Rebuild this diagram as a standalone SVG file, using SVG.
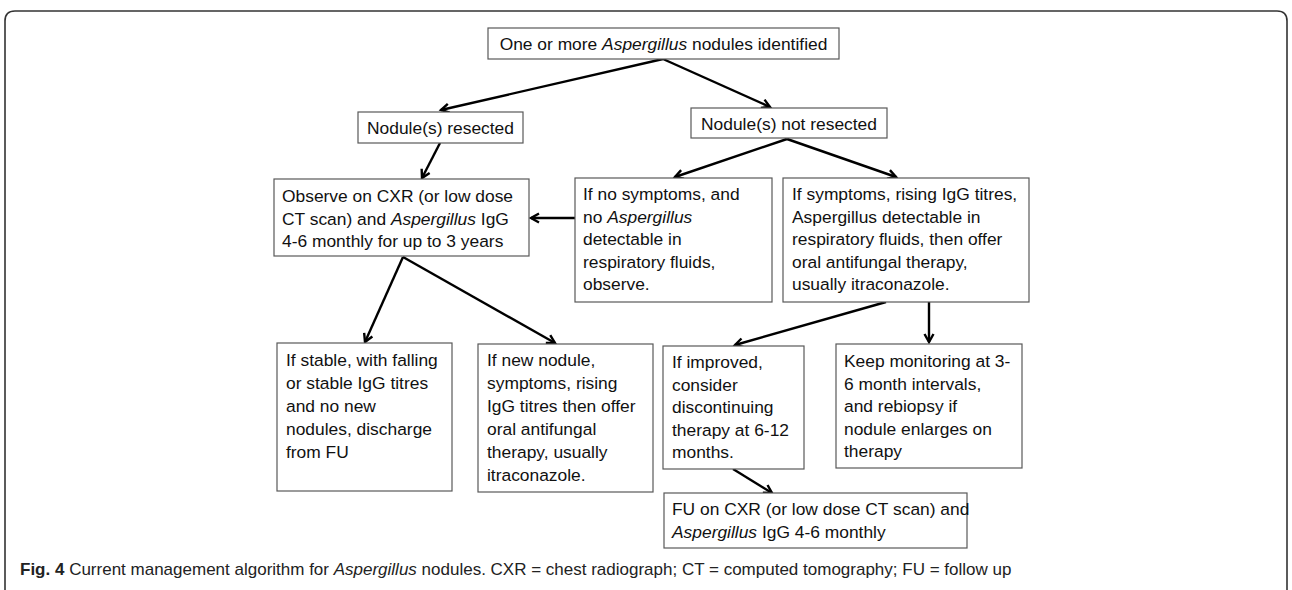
<svg xmlns="http://www.w3.org/2000/svg" width="1292" height="590" viewBox="0 0 1292 590">
<style>
.box{fill:#fff;stroke:#595959;stroke-width:1.2}
.t{font-family:"Liberation Sans",Arial,sans-serif;font-size:17.4px;fill:#111}
.c{font-family:"Liberation Sans",Arial,sans-serif;font-size:17px;fill:#222}
.i{font-style:italic}
.b{font-weight:bold}
.conn line{stroke:#000;stroke-width:2.4;marker-end:url(#ah)}
</style>
<defs>
<marker id="ah" markerWidth="12" markerHeight="12" refX="9" refY="6" orient="auto" markerUnits="userSpaceOnUse">
<path d="M1,1.5 L9,6 L1,10.5" fill="none" stroke="#000" stroke-width="2.4"/>
</marker>
</defs>
<rect width="1292" height="590" fill="#fff"/>
<path d="M5,592 L5,21 Q5,11 15,11 L1277,11 Q1287,11 1287,21 L1287,592" fill="none" stroke="#333" stroke-width="1.6"/>

<g class="conn" id="connectors">
<line x1="663" y1="59" x2="441" y2="110"/>
<line x1="663" y1="59" x2="770" y2="107"/>
<line x1="440" y1="143" x2="422" y2="178"/>
<line x1="787" y1="139" x2="675" y2="177"/>
<line x1="787" y1="139" x2="896" y2="177"/>
<line x1="575" y1="218" x2="531" y2="218"/>
<line x1="403" y1="257" x2="365" y2="342"/>
<line x1="403" y1="257" x2="555" y2="343"/>
<line x1="886" y1="302" x2="735" y2="345"/>
<line x1="929" y1="302" x2="929" y2="342"/>
<line x1="733" y1="469" x2="772" y2="493"/>
</g>

<g id="n-top">
<rect class="box" x="488" y="28" width="351" height="31"/>
<text class="t" x="663.5" y="50" text-anchor="middle">One or more <tspan class="i">Aspergillus</tspan> nodules identified</text>
</g>

<g id="n-resected">
<rect class="box" x="358" y="112" width="165" height="31"/>
<text class="t" x="440.5" y="134" text-anchor="middle">Nodule(s) resected</text>
</g>

<g id="n-notresected">
<rect class="box" x="691" y="108" width="196" height="30"/>
<text class="t" x="789" y="130" text-anchor="middle">Nodule(s) not resected</text>
</g>

<g id="n-observe">
<rect class="box" x="274" y="179" width="255" height="77"/>
<text class="t" x="282" y="202">Observe on CXR (or low dose</text>
<text class="t" x="282" y="224.5">CT scan) and <tspan class="i">Aspergillus</tspan> IgG</text>
<text class="t" x="282" y="247">4-6 monthly for up to 3 years</text>
</g>

<g id="n-nosymptoms">
<rect class="box" x="575" y="178" width="197" height="124"/>
<text class="t" x="583" y="200">If no symptoms, and</text>
<text class="t" x="583" y="222.5">no <tspan class="i">Aspergillus</tspan></text>
<text class="t" x="583" y="245">detectable in</text>
<text class="t" x="583" y="267.5">respiratory fluids,</text>
<text class="t" x="583" y="290">observe.</text>
</g>

<g id="n-symptoms">
<rect class="box" x="783" y="178" width="246" height="124"/>
<text class="t" x="792" y="200">If symptoms, rising IgG titres,</text>
<text class="t" x="792" y="222.5">Aspergillus detectable in</text>
<text class="t" x="792" y="245">respiratory fluids, then offer</text>
<text class="t" x="792" y="267.5">oral antifungal therapy,</text>
<text class="t" x="792" y="290">usually itraconazole.</text>
</g>

<g id="n-stable">
<rect class="box" x="277" y="343" width="175" height="148"/>
<text class="t" x="286" y="366">If stable, with falling</text>
<text class="t" x="286" y="389">or stable IgG titres</text>
<text class="t" x="286" y="412">and no new</text>
<text class="t" x="286" y="435">nodules, discharge</text>
<text class="t" x="286" y="458">from FU</text>
</g>

<g id="n-newnodule">
<rect class="box" x="478" y="344" width="175" height="148"/>
<text class="t" x="487" y="366">If new nodule,</text>
<text class="t" x="487" y="389">symptoms, rising</text>
<text class="t" x="487" y="412">IgG titres then offer</text>
<text class="t" x="487" y="435">oral antifungal</text>
<text class="t" x="487" y="458">therapy, usually</text>
<text class="t" x="487" y="481">itraconazole.</text>
</g>

<g id="n-improved">
<rect class="box" x="663" y="346" width="141" height="123"/>
<text class="t" x="672" y="368">If improved,</text>
<text class="t" x="672" y="390.5">consider</text>
<text class="t" x="672" y="413">discontinuing</text>
<text class="t" x="672" y="435.5">therapy at 6-12</text>
<text class="t" x="672" y="458">months.</text>
</g>

<g id="n-monitor">
<rect class="box" x="836" y="344" width="186" height="124"/>
<text class="t" x="844" y="367">Keep monitoring at 3-</text>
<text class="t" x="844" y="389.5">6 month intervals,</text>
<text class="t" x="844" y="412">and rebiopsy if</text>
<text class="t" x="844" y="434.5">nodule enlarges on</text>
<text class="t" x="844" y="457">therapy</text>
</g>

<g id="n-fu">
<rect class="box" x="664" y="493" width="303" height="55"/>
<text class="t" x="672" y="515">FU on CXR (or low dose CT scan) and</text>
<text class="t" x="672" y="537.5"><tspan class="i">Aspergillus</tspan> IgG 4-6 monthly</text>
</g>

<text class="c" x="20" y="575"><tspan class="b">Fig. 4</tspan> Current management algorithm for <tspan class="i">Aspergillus</tspan> nodules. CXR = chest radiograph; CT = computed tomography; FU = follow up</text>
</svg>
